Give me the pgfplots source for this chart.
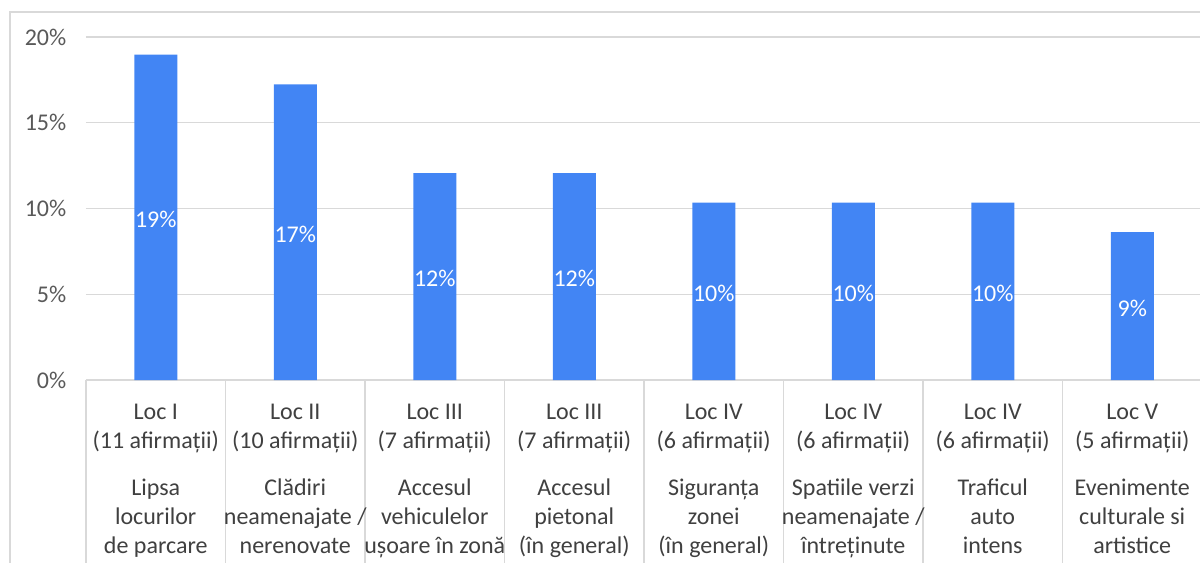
\documentclass[border=0pt]{standalone}
\usepackage{pgfplots}
\pgfplotsset{compat=1.18}
\usepackage{fontspec}
\setmainfont{Carlito}
\definecolor{barblue}{HTML}{4285F4}
\definecolor{gridgray}{HTML}{D9D9D9}
\definecolor{ticktext}{HTML}{595959}
\definecolor{cattext}{HTML}{404040}
\begin{document}
\begin{tikzpicture}
\clip (0pt,0pt) rectangle (900pt,421.5pt);
\draw[gridgray, line width=1.1pt] (7.5pt,-5pt) -- (7.5pt,412.5pt) -- (910pt,412.5pt);
\begin{axis}[
  at={(64.5pt,136.5pt)}, anchor=south west,
  width=837pt, height=257.25pt, scale only axis,
  xmin=-0.5, xmax=7.5, ymin=0, ymax=20,
  axis x line*=bottom, axis y line*=left,
  y axis line style={draw=none},
  x axis line style={gridgray, line width=1pt},
  ytick={0,5,10,15,20}, yticklabels={0\%,5\%,10\%,15\%,20\%},
  ymajorgrids, grid style={gridgray, line width=1pt},
  major tick length=0pt,
  tick align=outside,
  yticklabel style={font=\fontsize{18pt}{21.75pt}\selectfont, text=ticktext, xshift=-11.25pt},
  xtick={0,1,2,3,4,5,6,7},
  xticklabels={
    {Loc I\\(11 afirmații)\\[13.5pt]Lipsa\\locurilor\\de parcare},
    {Loc II\\(10 afirmații)\\[13.5pt]Clădiri\\neamenajate /\\nerenovate},
    {Loc III\\(7 afirmații)\\[13.5pt]Accesul\\vehiculelor\\ușoare în zonă},
    {Loc III\\(7 afirmații)\\[13.5pt]Accesul\\pietonal\\(în general)},
    {Loc IV\\(6 afirmații)\\[13.5pt]Siguranța\\zonei\\(în general)},
    {Loc IV\\(6 afirmații)\\[13.5pt]Spatiile verzi\\neamenajate /\\întreținute},
    {Loc IV\\(6 afirmații)\\[13.5pt]Traficul\\auto\\intens},
    {Loc V\\(5 afirmații)\\[13.5pt]Evenimente\\culturale si\\artistice}},
  xticklabel style={font=\fontsize{18pt}{21.75pt}\selectfont, text=cattext, align=center, anchor=north, yshift=-14.25pt},
  minor xtick={-0.5,0.5,1.5,2.5,3.5,4.5,5.5,6.5,7.5},
  minor tick length=150pt,
  minor x tick style={gridgray, line width=1pt},
  /pgf/number format/assume math mode=true,
  ybar, bar width=32.25pt,
  clip=false,
]
\addplot[fill=barblue, draw=none,
  nodes near coords={\pgfmathprintnumber[fixed,precision=0]{\pgfplotspointmeta}\%},
  visualization depends on=y \as \rawy,
  every node near coord/.append style={anchor=center, text=white,
    font=\fontsize{18pt}{21.75pt}\selectfont,
    shift={(axis direction cs:0,-\rawy/2)}, yshift=-1.5pt}]
coordinates {(0,18.97) (1,17.24) (2,12.07) (3,12.07) (4,10.34) (5,10.34) (6,10.34) (7,8.62)};
\end{axis}
\end{tikzpicture}
\end{document}
